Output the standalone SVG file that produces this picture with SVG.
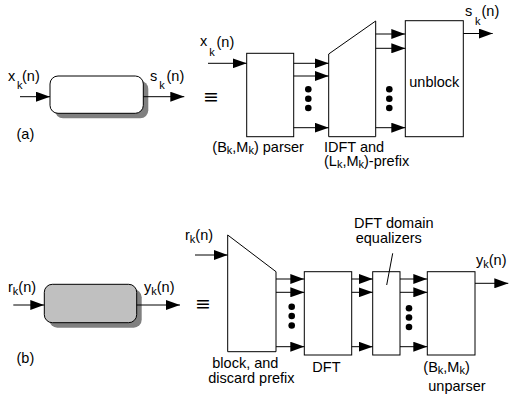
<svg xmlns="http://www.w3.org/2000/svg" width="510" height="397" viewBox="0 0 510 397">
<style>
text{font-family:"Liberation Sans",Arial,sans-serif;font-size:14.5px;fill:#000}
.s{font-size:11px}
.eq{font-family:"DejaVu Sans",sans-serif;font-size:19px}
.b{fill:#fff;stroke:#000;stroke-width:1}
.w{fill:#fff;stroke:#000;stroke-width:1}
.c{stroke:#000;stroke-width:1;fill:none}
.d{fill:#000}
</style>
<defs>
<marker id="ah" markerUnits="userSpaceOnUse" markerWidth="14" markerHeight="10" refX="14" refY="5" orient="auto">
<path d="M0,0 L14,5 L0,10 z" fill="#000"/>
</marker>
</defs>
<rect width="510" height="397" fill="#fff"/>

<g id="sys-a">
<rect x="55" y="81" width="93.3" height="37.3" rx="8" fill="#808080"/>
<rect x="50" y="76" width="93.3" height="37.3" rx="8" class="w"/>
</g>
<g id="sys-b">
<rect x="49.3" y="289.3" width="92.4" height="38.4" rx="8" fill="#808080"/>
<rect x="44.3" y="284.3" width="92.4" height="38.4" rx="8" fill="#c0c0c0" stroke="#000"/>
</g>

<g id="parser"><rect x="246.7" y="53.3" width="47" height="83.4" class="b"/></g>
<g id="idft"><polygon points="328.7,54 375.7,21 375.7,136.7 328.7,136.7" class="b"/></g>
<g id="unblock"><rect x="405.3" y="20.7" width="58" height="116" class="b"/>
<text x="434.3" y="87" text-anchor="middle">unblock</text></g>

<g id="blockdiscard"><polygon points="227.7,235 276,271.7 276,351.7 227.7,351.7" class="b"/></g>
<g id="dft"><rect x="304.3" y="271.7" width="47.4" height="83.3" class="b"/></g>
<g id="equalizer"><rect x="372.7" y="271.7" width="27.3" height="83.3" class="b"/></g>
<g id="unparser"><rect x="427.3" y="271.7" width="47.7" height="83.3" class="b"/></g>

<g id="connectors" class="c">
<line x1="20" y1="96.7" x2="50" y2="96.7" marker-end="url(#ah)"/>
<line x1="143.3" y1="96.7" x2="184.3" y2="96.7" marker-end="url(#ah)"/>
<line x1="13.3" y1="305" x2="44.3" y2="305" marker-end="url(#ah)"/>
<line x1="136.7" y1="305" x2="180" y2="305" marker-end="url(#ah)"/>

<line x1="208" y1="63.3" x2="246.7" y2="63.3" marker-end="url(#ah)"/>
<line x1="293.7" y1="63.3" x2="328.7" y2="63.3" marker-end="url(#ah)"/>
<line x1="293.7" y1="76" x2="328.7" y2="76" marker-end="url(#ah)"/>
<line x1="293.7" y1="127.7" x2="328.7" y2="127.7" marker-end="url(#ah)"/>
<line x1="375.7" y1="34" x2="405.3" y2="34" marker-end="url(#ah)"/>
<line x1="375.7" y1="48.3" x2="405.3" y2="48.3" marker-end="url(#ah)"/>
<line x1="375.7" y1="127.7" x2="405.3" y2="127.7" marker-end="url(#ah)"/>
<line x1="463.3" y1="33.5" x2="492.7" y2="33.5" marker-end="url(#ah)"/>

<line x1="195" y1="255" x2="227.7" y2="255" marker-end="url(#ah)"/>
<line x1="276" y1="279" x2="304.3" y2="279" marker-end="url(#ah)"/>
<line x1="276" y1="292.3" x2="304.3" y2="292.3" marker-end="url(#ah)"/>
<line x1="276" y1="346.7" x2="304.3" y2="346.7" marker-end="url(#ah)"/>
<line x1="351.7" y1="279" x2="372.7" y2="279" marker-end="url(#ah)"/>
<line x1="351.7" y1="292.3" x2="372.7" y2="292.3" marker-end="url(#ah)"/>
<line x1="351.7" y1="346.7" x2="372.7" y2="346.7" marker-end="url(#ah)"/>
<line x1="400" y1="279" x2="427.3" y2="279" marker-end="url(#ah)"/>
<line x1="400" y1="292.3" x2="427.3" y2="292.3" marker-end="url(#ah)"/>
<line x1="400" y1="346.7" x2="427.3" y2="346.7" marker-end="url(#ah)"/>
<line x1="475" y1="283.3" x2="508.3" y2="283.3" marker-end="url(#ah)"/>
<line x1="392.7" y1="253.3" x2="386.7" y2="285"/>
</g>

<g id="dots" class="d">
<circle cx="308.3" cy="89.3" r="3.3"/><circle cx="308.3" cy="98.7" r="3.3"/><circle cx="308.3" cy="108" r="3.3"/>
<circle cx="389.3" cy="89.3" r="3.3"/><circle cx="389.3" cy="98.7" r="3.3"/><circle cx="389.3" cy="108" r="3.3"/>
<circle cx="291.7" cy="306.7" r="3.3"/><circle cx="291.7" cy="316" r="3.3"/><circle cx="291.7" cy="325.5" r="3.3"/>
<circle cx="409" cy="308.3" r="3.3"/><circle cx="409" cy="317.5" r="3.3"/><circle cx="409" cy="327" r="3.3"/>
</g>

<g id="labels">
<text x="8" y="81">x</text><text class="s" x="17" y="89">k</text><text x="22" y="81">(n)</text>
<text x="150" y="81">s</text><text class="s" x="159.3" y="89">k</text><text x="166.5" y="81">(n)</text>
<text x="16.5" y="139">(a)</text>

<text x="200" y="46">x</text><text class="s" x="209.3" y="56">k</text><text x="216.5" y="47">(n)</text>
<text x="465" y="16">s</text><text class="s" x="475" y="25">k</text><text x="481.5" y="16">(n)</text>
<text class="eq" x="203" y="103">≡</text>

<text x="212.3" y="151.7">(B<tspan class="s" dy="2.5">k</tspan><tspan dy="-2.5">,M</tspan><tspan class="s" dy="2.5">k</tspan><tspan dy="-2.5">) parser</tspan></text>
<text x="324" y="151.7">IDFT and</text>
<text x="324" y="165.7">(L<tspan class="s" dy="2.5">k</tspan><tspan dy="-2.5">,M</tspan><tspan class="s" dy="2.5">k</tspan><tspan dy="-2.5">)-prefix</tspan></text>

<text x="8" y="291.7">r<tspan class="s" dy="3">k</tspan><tspan dy="-3">(n)</tspan></text>
<text x="144" y="291.7">y<tspan class="s" dy="3">k</tspan><tspan dy="-3">(n)</tspan></text>
<text x="16.5" y="363">(b)</text>

<text x="185" y="240">r<tspan class="s" dy="3">k</tspan><tspan dy="-3">(n)</tspan></text>
<text class="eq" x="195" y="310">≡</text>
<text x="354" y="227.7">DFT domain</text>
<text x="355.7" y="243.3">equalizers</text>
<text x="476" y="265">y<tspan class="s" dy="3">k</tspan><tspan dy="-3">(n)</tspan></text>
<text x="212.3" y="368.3">block, and</text>
<text x="208.3" y="382.7">discard prefix</text>
<text x="312.3" y="371.7">DFT</text>
<text x="423.3" y="371.7">(B<tspan class="s" dy="2.5">k</tspan><tspan dy="-2.5">,M</tspan><tspan class="s" dy="2.5">k</tspan><tspan dy="-2.5">)</tspan></text>
<text x="428.3" y="390.7">unparser</text>
</g>
</svg>
